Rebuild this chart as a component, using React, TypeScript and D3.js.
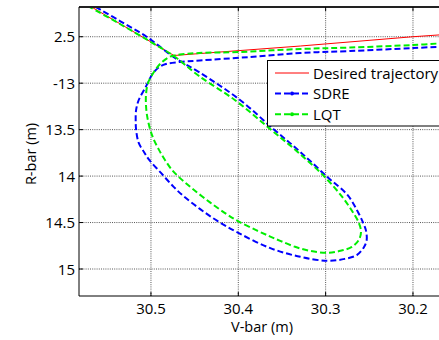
import React from "react";
import * as d3 from "d3";

// Axis ticks (R-bar shown with its printed labels)
const vTicks = [30.5, 30.4, 30.3, 30.2];
const vTickLabels = ["30.5", "30.4", "30.3", "30.2"];
const rTicks = [12.5, 13, 13.5, 14, 14.5, 15];
const rTickLabels = ["2.5", "-13", "13.5", "14", "14.5", "15"];

// Trajectories as [V-bar, R-bar] in metres
const desired: [number, number][] = [
  [30.5756, 12.138], [30.4737, 12.702], [30.329, 12.6], [30.2, 12.5], [30.163, 12.476],
];

const sdre: [number, number][] = [
  [30.163, 12.605], [30.2, 12.622], [30.272, 12.654], [30.329, 12.675], [30.387, 12.718],
  [30.444, 12.756], [30.467, 12.772], [30.483, 12.794], [30.492, 12.837], [30.499, 12.912],
  [30.506, 13.041], [30.514, 13.181], [30.517, 13.288], [30.5175, 13.396], [30.517, 13.503],
  [30.514, 13.643], [30.508, 13.74], [30.502, 13.826], [30.4885, 13.966], [30.474, 14.116],
  [30.463, 14.213], [30.444, 14.353], [30.424, 14.482], [30.4, 14.611], [30.364, 14.773],
  [30.329, 14.869], [30.298, 14.912], [30.278, 14.891], [30.264, 14.848], [30.256, 14.762],
  [30.253, 14.687], [30.254, 14.579], [30.257, 14.504], [30.263, 14.386], [30.275, 14.203],
  [30.298, 14.01], [30.329, 13.74], [30.36, 13.492], [30.398, 13.181], [30.445, 12.88],
  [30.4725, 12.729], [30.5046, 12.503], [30.5355, 12.331], [30.563, 12.181], [30.57, 12.143],
];

const lqt: [number, number][] = [
  [30.163, 12.568], [30.2, 12.589], [30.272, 12.616], [30.329, 12.632], [30.4, 12.665],
  [30.445, 12.675], [30.467, 12.691], [30.4737, 12.702], [30.479, 12.718], [30.4885, 12.783],
  [30.4966, 12.88], [30.5034, 12.998], [30.5057, 13.127], [30.5057, 13.234], [30.5046, 13.342],
  [30.5011, 13.492], [30.4966, 13.611], [30.4908, 13.718], [30.484, 13.826], [30.476, 13.933],
  [30.467, 14.019], [30.453, 14.132], [30.4324, 14.283], [30.413, 14.412], [30.4, 14.487],
  [30.379, 14.584], [30.364, 14.648], [30.352, 14.697], [30.335, 14.761], [30.318, 14.804],
  [30.298, 14.826], [30.283, 14.804], [30.27, 14.762], [30.262, 14.686], [30.2595, 14.6],
  [30.262, 14.504], [30.269, 14.386], [30.281, 14.224], [30.301, 14.009], [30.332, 13.74],
  [30.3637, 13.492], [30.404, 13.181], [30.445, 12.923], [30.4737, 12.708], [30.5, 12.557],
  [30.5355, 12.363], [30.57, 12.181], [30.576, 12.148],
];

const legendItems = [
  { label: "Desired trajectory", color: "#ff0000", dashed: false },
  { label: "SDRE", color: "#0000ff", dashed: true },
  { label: "LQT", color: "#00ee00", dashed: true },
];

const W = 439;
const H = 340;
const left = 79;
const right = 439;
const top = 7;
const bottom = 296;
const font = "'Open Sans', 'Noto Sans', sans-serif";

export default function App() {
  const x = d3.scaleLinear().domain([30.5824, 30.1702]).range([left, right]);
  const y = d3.scaleLinear().domain([12.18, 15.2906]).range([top, bottom]);

  const line = d3
    .line<[number, number]>()
    .x((d) => x(d[0]))
    .y((d) => y(d[1]))
    .curve(d3.curveCatmullRom.alpha(0.5));

  const straight = d3
    .line<[number, number]>()
    .x((d) => x(d[0]))
    .y((d) => y(d[1]));

  const tickLen = 4;

  return (
    <svg
      width={W}
      height={H}
      style={{ position: "absolute", left: 0, top: 0, background: "#fff" }}
      fontFamily={font}
    >
      <defs>
        <clipPath id="plotArea">
          <rect x={left} y={top} width={right - left} height={bottom - top} />
        </clipPath>
      </defs>

      {/* grid */}
      <g stroke="#444" strokeWidth={0.9} strokeDasharray="1 1.2">
        {vTicks.map((v) => (
          <line key={"gv" + v} x1={x(v)} x2={x(v)} y1={top} y2={bottom} />
        ))}
        {rTicks.map((r) => (
          <line key={"gr" + r} x1={left} x2={right} y1={y(r)} y2={y(r)} />
        ))}
      </g>

      {/* trajectories */}
      <g clipPath="url(#plotArea)" fill="none">
        <path d={straight(desired) ?? ""} stroke="#ff0000" strokeWidth={1} />
        <path d={line(sdre) ?? ""} stroke="#0000ff" strokeWidth={2} strokeDasharray="6 3" />
        <path d={line(lqt) ?? ""} stroke="#00ee00" strokeWidth={2} strokeDasharray="6 3" />
      </g>

      {/* axes */}
      <line x1={left} x2={right} y1={top} y2={top} stroke="#222" strokeWidth={2} />
      <line x1={left} x2={right} y1={bottom} y2={bottom} stroke="#000" strokeWidth={1} />
      <line x1={left} x2={left} y1={top} y2={bottom} stroke="#000" strokeWidth={1} />
      <g stroke="#000" strokeWidth={1}>
        {vTicks.map((v) => (
          <g key={"tv" + v}>
            <line x1={x(v)} x2={x(v)} y1={bottom} y2={bottom - tickLen} />
            <line x1={x(v)} x2={x(v)} y1={top} y2={top + tickLen} />
          </g>
        ))}
        {rTicks.map((r) => (
          <line key={"tr" + r} x1={left} x2={left + tickLen} y1={y(r)} y2={y(r)} />
        ))}
      </g>

      {/* tick labels */}
      <g fontSize={15} fill="#000">
        {vTicks.map((v, i) => (
          <text key={"lv" + v} x={x(v)} y={314} textAnchor="middle">
            {vTickLabels[i]}
          </text>
        ))}
        {rTicks.map((r, i) => (
          <text key={"lr" + r} x={75} y={y(r) + 5.5} textAnchor="end">
            {rTickLabels[i]}
          </text>
        ))}
      </g>

      {/* axis titles */}
      <text x={262} y={332} textAnchor="middle" fontSize={14.5}>
        V-bar (m)
      </text>
      <text
        transform={`translate(36, 154) rotate(-90)`}
        textAnchor="middle"
        fontSize={14.5}
      >
        R-bar (m)
      </text>

      {/* legend */}
      <rect x={267.5} y={60.5} width={200} height={65.5} fill="#fff" stroke="#000" strokeWidth={1} />
      {legendItems.map((it, i) => {
        const ly = 73 + i * 20.6;
        return (
          <g key={it.label}>
            <line
              x1={275}
              x2={309}
              y1={ly}
              y2={ly}
              stroke={it.color}
              strokeWidth={it.dashed ? 2 : 1}
              strokeDasharray={it.dashed ? "6 3" : undefined}
            />
            {it.dashed && <circle cx={292} cy={ly} r={2} fill={it.color} />}
            <text x={313} y={ly + 5.5} fontSize={15}>
              {it.label}
            </text>
          </g>
        );
      })}
    </svg>
  );
}
